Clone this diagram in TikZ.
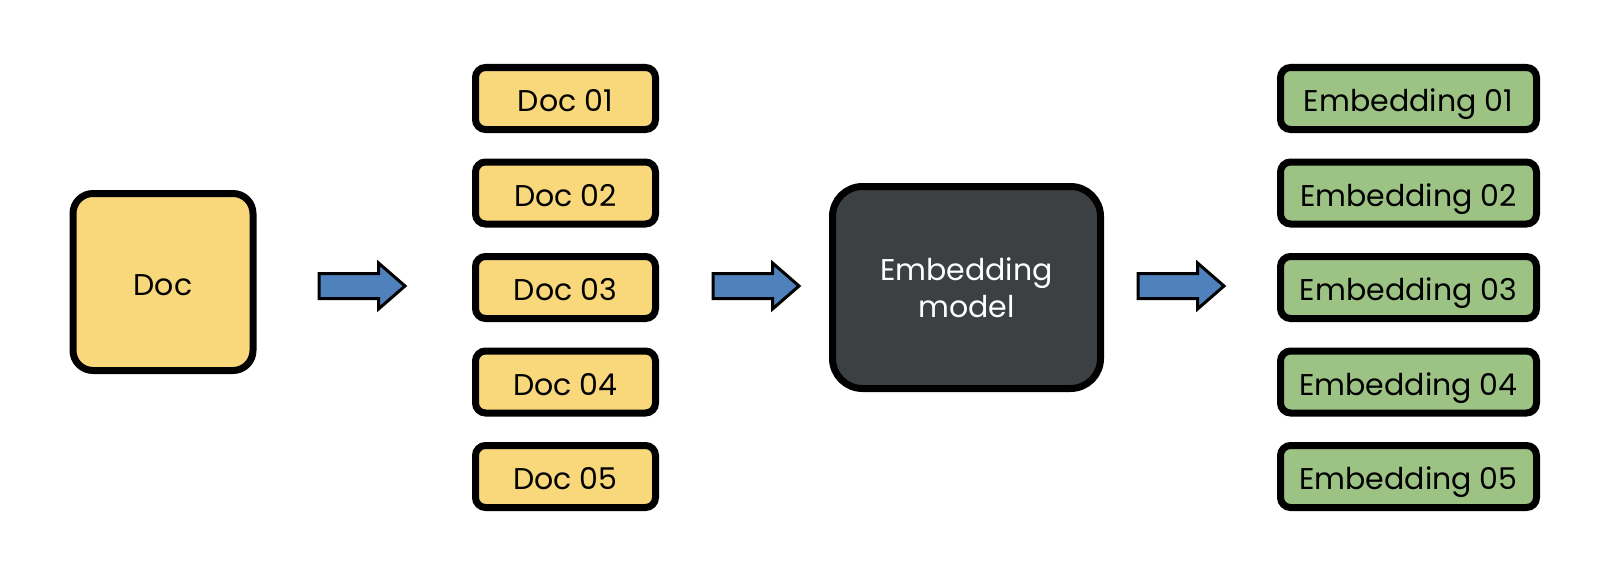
\documentclass[tikz,border=0pt]{standalone}
\usepackage{fontspec}
\setmainfont{Poppins}
\usepackage{xcolor}
\usetikzlibrary{shapes.arrows}

\definecolor{docyellow}{HTML}{F9D87B}
\definecolor{embgreen}{HTML}{9DC384}
\definecolor{arrowblue}{HTML}{4F81BD}
\definecolor{modelgrey}{HTML}{3C4043}

\begin{document}
\begin{tikzpicture}[
    x=1pt, y=-1pt,
    bigdoc/.style={rectangle, draw, fill=docyellow, line width=7pt, rounded corners=20pt, minimum width=180pt, minimum height=177pt, inner sep=0pt, text height=26pt, text depth=0pt, font=\fontsize{30}{37}\selectfont},
    docbox/.style={rectangle, draw, fill=docyellow, line width=7pt, rounded corners=10pt, minimum width=180pt, minimum height=62pt, inner sep=0pt, text height=26pt, text depth=0pt, font=\fontsize{30}{37}\selectfont},
    embbox/.style={docbox, fill=embgreen, minimum width=256pt},
    model/.style={rectangle, draw, fill=modelgrey, text=white, line width=7pt, rounded corners=30pt, minimum width=268pt, minimum height=202pt, inner sep=0pt, align=center, font=\fontsize{30}{37}\selectfont},
    fatarrow/.style={single arrow, draw, fill=arrowblue, line width=3pt, minimum height=86pt, minimum width=43pt, single arrow head extend=10.5pt, single arrow tip angle=82, inner xsep=0pt, inner ysep=11pt, anchor=tail}
]
    \useasboundingbox (0,0) rectangle (1608,578);

    % Input document
    \node[bigdoc] (doc) at (163,282) {Doc};

    % Chunks
    \node[docbox] (d1) at (565.5,98.5) {Doc 01};
    \node[docbox] (d2) at (565.5,193) {Doc 02};
    \node[docbox] (d3) at (565.5,287.5) {Doc 03};
    \node[docbox] (d4) at (565.5,382) {Doc 04};
    \node[docbox] (d5) at (565.5,476.5) {Doc 05};

    % Model
    \node[model] (emb) at (966.5,287.5) {Embedding\\model};

    % Embeddings
    \node[embbox] (e1) at (1408.5,98.5) {Embedding 01};
    \node[embbox] (e2) at (1408.5,193) {Embedding 02};
    \node[embbox] (e3) at (1408.5,287.5) {Embedding 03};
    \node[embbox] (e4) at (1408.5,382) {Embedding 04};
    \node[embbox] (e5) at (1408.5,476.5) {Embedding 05};

    % Arrows
    \node[fatarrow] (a1) at (317.5,286) {};
    \node[fatarrow] (a2) at (711.5,286) {};
    \node[fatarrow] (a3) at (1136.5,286) {};
\end{tikzpicture}
\end{document}
